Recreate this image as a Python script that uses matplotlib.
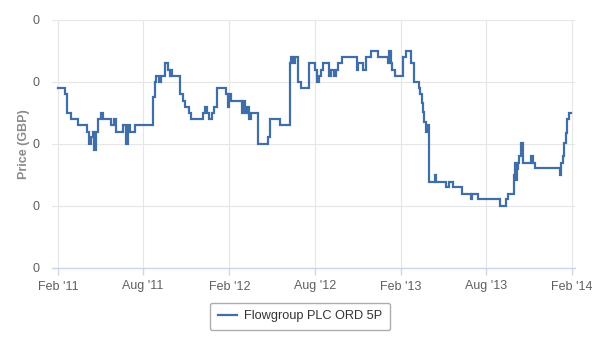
import matplotlib
matplotlib.use("Agg")
import matplotlib.pyplot as plt
import matplotlib.dates as mdates
import pandas as pd
from matplotlib.ticker import FixedLocator, FuncFormatter

plt.rcParams['font.family'] = ['Liberation Sans', 'DejaVu Sans']

series_name = "Flowgroup PLC ORD 5P"
dates = [
    "2011-02-01", "2011-02-16", "2011-02-20", "2011-02-28", "2011-03-16", "2011-04-04",
    "2011-04-08", "2011-04-12", "2011-04-17", "2011-04-19", "2011-04-23", "2011-04-27",
    "2011-05-04", "2011-05-08", "2011-05-25", "2011-05-31", "2011-06-04", "2011-06-19",
    "2011-06-26", "2011-06-30", "2011-07-04", "2011-07-15", "2011-08-23", "2011-08-27",
    "2011-08-29", "2011-09-04", "2011-09-08", "2011-09-17", "2011-09-23", "2011-09-27",
    "2011-09-30", "2011-10-02", "2011-10-19", "2011-10-26", "2011-10-30", "2011-11-07",
    "2011-11-11", "2011-12-07", "2011-12-11", "2011-12-15", "2011-12-20", "2011-12-26",
    "2011-12-30", "2012-01-06", "2012-01-26", "2012-01-30", "2012-02-01", "2012-02-05",
    "2012-02-28", "2012-03-01", "2012-03-06", "2012-03-10", "2012-03-14", "2012-03-19",
    "2012-04-02", "2012-04-23", "2012-04-27", "2012-05-19", "2012-06-09", "2012-06-11",
    "2012-06-16", "2012-06-20", "2012-06-26", "2012-07-03", "2012-07-20", "2012-08-02",
    "2012-08-06", "2012-08-10", "2012-08-14", "2012-08-19", "2012-09-01", "2012-09-05",
    "2012-09-11", "2012-09-16", "2012-09-20", "2012-09-28", "2012-10-30", "2012-11-01",
    "2012-11-12", "2012-11-18", "2012-11-29", "2012-12-14", "2013-01-04", "2013-01-06",
    "2013-01-10", "2013-01-12", "2013-01-19", "2013-02-05", "2013-02-11", "2013-02-22",
    "2013-03-01", "2013-03-11", "2013-03-14", "2013-03-17", "2013-03-20", "2013-03-23",
    "2013-03-26", "2013-03-29", "2013-04-01", "2013-04-14", "2013-04-16", "2013-05-08",
    "2013-05-14", "2013-05-23", "2013-06-11", "2013-06-30", "2013-07-02", "2013-07-15",
    "2013-08-31", "2013-09-13", "2013-09-17", "2013-09-30", "2013-10-02", "2013-10-04",
    "2013-10-06", "2013-10-09", "2013-10-11", "2013-10-15", "2013-10-19", "2013-11-05",
    "2013-11-09", "2013-11-13", "2014-01-06", "2014-01-08", "2014-01-12", "2014-01-14",
    "2014-01-19", "2014-01-21", "2014-01-25", "2014-01-30",
]
prices = [
    0.145, 0.140, 0.125, 0.120, 0.115, 0.110,
    0.100, 0.106, 0.110, 0.095, 0.110, 0.120,
    0.125, 0.120, 0.115, 0.120, 0.110, 0.115,
    0.100, 0.115, 0.110, 0.115, 0.138, 0.150,
    0.155, 0.150, 0.155, 0.165, 0.160, 0.155,
    0.160, 0.155, 0.140, 0.135, 0.130, 0.125,
    0.120, 0.125, 0.130, 0.125, 0.120, 0.125,
    0.130, 0.145, 0.140, 0.130, 0.140, 0.135,
    0.125, 0.135, 0.125, 0.130, 0.120, 0.125,
    0.100, 0.106, 0.120, 0.115, 0.165, 0.170,
    0.165, 0.170, 0.150, 0.145, 0.165, 0.160,
    0.150, 0.155, 0.160, 0.165, 0.155, 0.160,
    0.155, 0.160, 0.165, 0.170, 0.160, 0.165,
    0.160, 0.170, 0.175, 0.170, 0.165, 0.175,
    0.165, 0.160, 0.155, 0.170, 0.175, 0.165,
    0.150, 0.145, 0.140, 0.133, 0.126, 0.118,
    0.110, 0.115, 0.069, 0.075, 0.069, 0.065,
    0.069, 0.065, 0.060, 0.056, 0.060, 0.056,
    0.050, 0.056, 0.060, 0.075, 0.085, 0.071,
    0.080, 0.085, 0.090, 0.101, 0.085, 0.090,
    0.085, 0.081, 0.075, 0.085, 0.090, 0.101,
    0.109, 0.120, 0.125, 0.125,
]
x_tick_dates = ["2011-02-01", "2011-08-01", "2012-02-01", "2012-08-01",
                "2013-02-01", "2013-08-01", "2014-02-01"]
x_tick_labels = ["Feb '11", "Aug '11", "Feb '12", "Aug '12", "Feb '13", "Aug '13", "Feb '14"]
y_ticks = [0.0, 0.05, 0.10, 0.15, 0.20]
y_label = "Price (GBP)"

fig = plt.figure(figsize=(6, 3.5), dpi=100)
ax = fig.add_axes([52 / 600, (350 - 268) / 350, (575 - 52) / 600, 248 / 350])

x = pd.to_datetime(dates)
ax.plot(x, prices, color="#3f6ea9", lw=1.6, drawstyle="steps-post",
        label=series_name, solid_joinstyle="miter")

ax.set_xlim(pd.Timestamp("2011-01-19"), pd.Timestamp("2014-02-07"))
ax.set_ylim(0, 0.2)

xt = [mdates.date2num(pd.Timestamp(d)) for d in x_tick_dates]
ax.xaxis.set_major_locator(FixedLocator(xt))
ax.set_xticklabels(x_tick_labels)
ax.yaxis.set_major_locator(FixedLocator(y_ticks))
ax.yaxis.set_major_formatter(FuncFormatter(lambda v, p: f"{v:.0f}"))

ax.grid(True, color="#e6e6e6", lw=0.8)
ax.set_axisbelow(True)
for s in ["top", "right", "left"]:
    ax.spines[s].set_visible(False)
ax.spines["bottom"].set_color("#ccd6eb")
ax.spines["bottom"].set_linewidth(1)
ax.tick_params(axis="x", colors="#ccd6eb", length=5, width=1, direction="out",
               labelcolor="#606060", labelsize=9, pad=4)
ax.tick_params(axis="y", length=0, labelcolor="#606060", labelsize=9, pad=9)
ax.set_ylabel(y_label, color="#8a8a8a", fontsize=9, fontweight="bold", labelpad=2)

leg = fig.legend(loc="center", bbox_to_anchor=(0.5, 1 - 316.5 / 350), frameon=True,
                 fontsize=9.2, handlelength=1.5, borderpad=0.6, borderaxespad=0,
                 fancybox=True, edgecolor="#999999", handletextpad=0.6)
leg.get_frame().set_linewidth(1)
for t in leg.get_texts():
    t.set_color("#333333")

fig.savefig("out.png", dpi=100)
